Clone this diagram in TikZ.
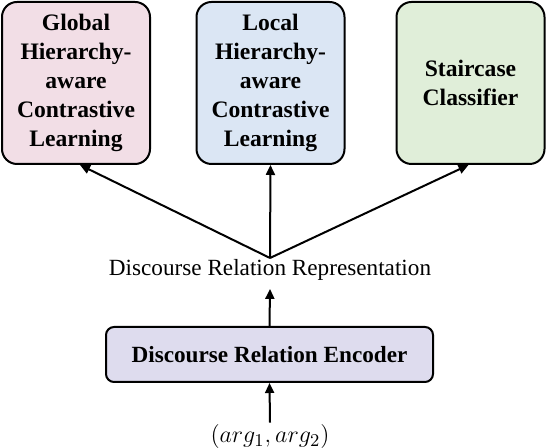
\documentclass[tikz,border=0pt]{standalone}
\usepackage{fontspec}
\setmainfont{Liberation Serif}
\usepackage{tikz}
\usetikzlibrary{arrows.meta}

\definecolor{glpink}{RGB}{242,222,230}
\definecolor{lcblue}{RGB}{219,230,244}
\definecolor{scgreen}{RGB}{224,238,217}
\definecolor{enclav}{RGB}{222,220,238}

\begin{document}
\begin{tikzpicture}[x=.5pt,y=.5pt,font=\fontsize{11.6}{14.5}\selectfont,
  module/.style={draw,line width=1pt,rounded corners=7.5pt,minimum width=74pt,
    minimum height=81pt,text width=66pt,align=center,font=\fontsize{11.8}{14.5}\selectfont\bfseries},
  encbox/.style={draw,line width=1pt,rounded corners=4pt,minimum width=163.5pt,
    minimum height=27.5pt,font=\fontsize{11.6}{14.5}\selectfont\bfseries},
  flow/.style={line width=1pt,-{Triangle[length=5pt,width=4.5pt]}}]
  \useasboundingbox (0,0) rectangle (546,448);
  \node[module,fill=glpink] (glob) at (76,365) {Global\\Hierarchy-\\aware\\Contrastive\\Learning};
  \node[module,fill=lcblue] (loc) at (270.5,365) {Local\\Hierarchy-\\aware\\Contrastive\\Learning};
  \node[module,fill=scgreen] (stair) at (470.5,365) {Staircase\\Classifier};
  \node[inner sep=1pt] (rep) at (270,178) {Discourse Relation Representation};
  \node[encbox,fill=enclav] (enc) at (269.5,93.5) {Discourse Relation Encoder};
  \node[inner sep=1pt,font=\fontsize{12.8}{14.5}\selectfont] (arg) at (270,11) {$(arg_1,arg_2)$};
  \coordinate (fork) at (270,190);
  \draw[flow] (fork) -- ([xshift=2pt]glob.south);
  \draw[flow] (fork) -- (loc.south);
  \draw[flow] (fork) -- ([xshift=-1pt]stair.south);
  \draw[flow] (enc.north) -- ([yshift=-3pt]rep.south);
  \draw[flow] (arg.north) -- (enc.south);
\end{tikzpicture}
\end{document}
